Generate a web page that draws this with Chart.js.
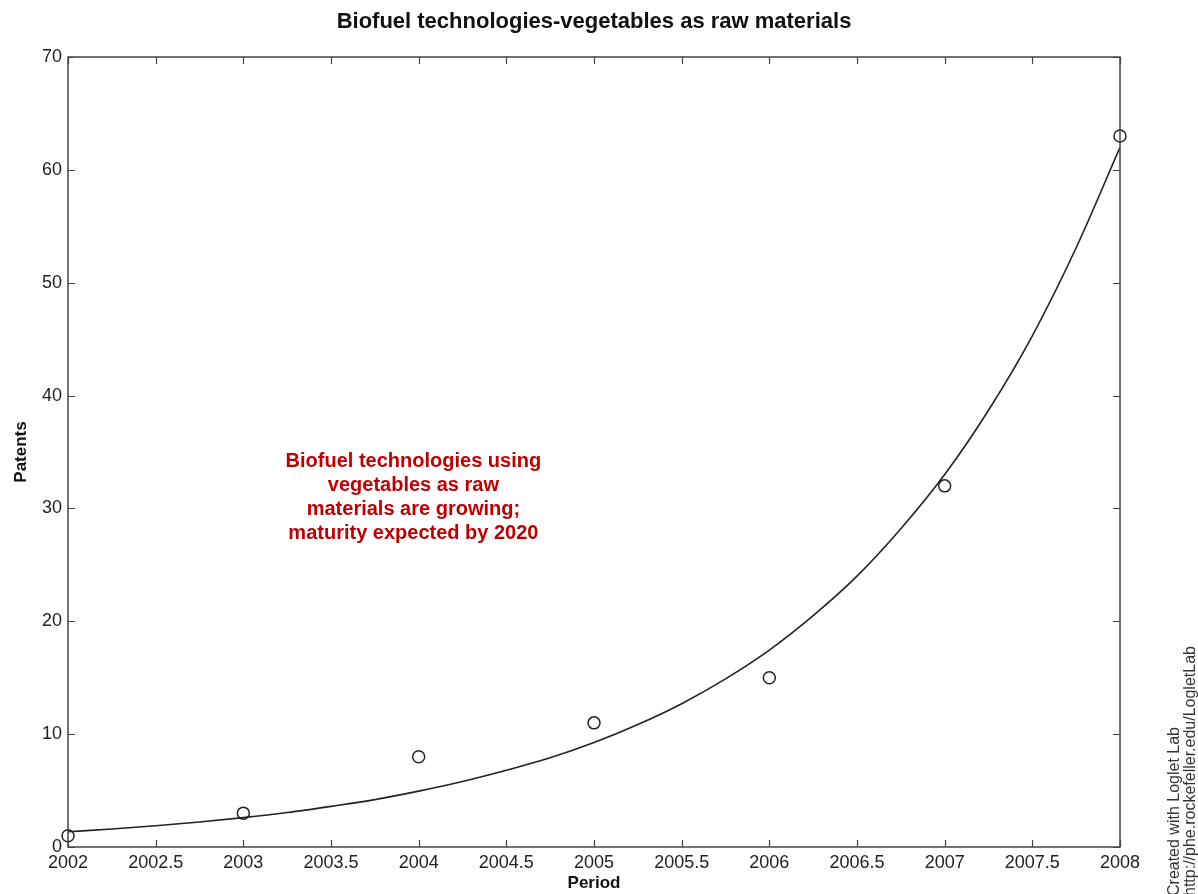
<!DOCTYPE html>
<html lang="en">
<head>
  <meta charset="UTF-8" />
  <title>Biofuel technologies-vegetables as raw materials</title>
  <script src="https://cdn.jsdelivr.net/npm/chart.js"></script>
  <style>
    html, body { margin: 0; padding: 0; background: #fff; }
    #wrap { width: 1198px; height: 894px; }
  </style>
</head>
<body>
  <div id="wrap"><canvas id="chart" width="1198" height="894"></canvas></div>
  <script>
    // observed patents per year (circles)
    const years = [2002, 2003, 2004, 2005, 2006, 2007, 2008];
    const patents = [1, 3, 8, 11, 15, 32, 63];

    // fitted curve, every quarter year
    const fitX = [2002, 2002.25, 2002.5, 2002.75, 2003, 2003.25, 2003.5, 2003.75, 2004, 2004.25, 2004.5, 2004.75,
                  2005, 2005.25, 2005.5, 2005.75, 2006, 2006.25, 2006.5, 2006.75, 2007, 2007.25, 2007.5, 2007.75, 2008];
    const fitY = [1.35, 1.6, 1.88, 2.22, 2.6, 3.05, 3.6, 4.2, 4.95, 5.8, 6.8, 7.9,
                  9.25, 10.85, 12.7, 14.9, 17.45, 20.5, 24.0, 28.2, 33.0, 38.7, 45.3, 53.1, 62.0];

    const xTicks = [2002, 2002.5, 2003, 2003.5, 2004, 2004.5, 2005, 2005.5, 2006, 2006.5, 2007, 2007.5, 2008];
    const yTicks = [0, 10, 20, 30, 40, 50, 60, 70];

    const title = "Biofuel technologies-vegetables as raw materials";
    const note = ["Biofuel technologies using", "vegetables as raw", "materials are growing;", "maturity expected by 2020"];
    const credit = ["Created with Loglet Lab", "http://phe.rockefeller.edu/LogletLab"];

    const axisColor = "#444";
    const fontFamily = "Arial, 'Liberation Sans', sans-serif";

    // box with inward ticks, title, note text and credit line
    const boxPlugin = {
      id: "box",
      afterDatasetsDraw(chart) {
        const { ctx, chartArea: a, scales } = chart;
        const x = scales.x, y = scales.y;
        ctx.save();
        ctx.strokeStyle = axisColor;
        ctx.lineWidth = 1.5;
        ctx.strokeRect(a.left, a.top, a.right - a.left, a.bottom - a.top);
        ctx.lineWidth = 1.2;
        ctx.beginPath();
        xTicks.forEach(v => {
          const px = Math.round(x.getPixelForValue(v)) + 0.5;
          ctx.moveTo(px, a.bottom); ctx.lineTo(px, a.bottom - 7);
          ctx.moveTo(px, a.top); ctx.lineTo(px, a.top + 7);
        });
        yTicks.forEach(v => {
          const py = Math.round(y.getPixelForValue(v)) + 0.5;
          ctx.moveTo(a.left, py); ctx.lineTo(a.left + 7, py);
          ctx.moveTo(a.right, py); ctx.lineTo(a.right - 7, py);
        });
        ctx.stroke();

        // title centred over the plot box
        ctx.fillStyle = "#111";
        ctx.font = "bold 22px " + fontFamily;
        ctx.textAlign = "center";
        ctx.textBaseline = "middle";
        ctx.fillText(title, (a.left + a.right) / 2, 22);

        // annotation
        ctx.fillStyle = "#c00000";
        ctx.font = "bold 20px " + fontFamily;
        const cx = x.getPixelForValue(2003.97);
        const top = y.getPixelForValue(34.2);
        note.forEach((t, i) => ctx.fillText(t, cx, top + i * 24));

        // credit, rotated
        ctx.fillStyle = "#333";
        ctx.font = "16px " + fontFamily;
        ctx.textAlign = "left";
        credit.forEach((t, i) => {
          ctx.save();
          ctx.translate(1175 + i * 16, 896);
          ctx.rotate(-Math.PI / 2);
          ctx.fillText(t, 0, 0);
          ctx.restore();
        });
        ctx.restore();
      }
    };

    const tickFont = { family: fontFamily, size: 18 };

    new Chart(document.getElementById("chart"), {
      type: "scatter",
      data: {
        datasets: [
          {
            type: "line",
            label: "fit",
            data: fitX.map((v, i) => ({ x: v, y: fitY[i] })),
            borderColor: "#222",
            borderWidth: 1.6,
            pointRadius: 0,
            cubicInterpolationMode: "monotone",
            fill: false
          },
          {
            label: "Patents",
            data: years.map((v, i) => ({ x: v, y: patents[i] })),
            pointStyle: "circle",
            pointRadius: 6,
            pointBorderWidth: 1.5,
            borderColor: "#222",
            backgroundColor: "rgba(255,255,255,0)",
            clip: false
          }
        ]
      },
      options: {
        responsive: false,
        animation: false,
        layout: { padding: { top: 57, right: 78, left: 0, bottom: 0 } },
        plugins: {
          legend: { display: false },
          tooltip: { enabled: false },
          title: { display: false }
        },
        scales: {
          x: {
            type: "linear",
            min: 2002,
            max: 2008,
            afterBuildTicks(s) { s.ticks = xTicks.map(v => ({ value: v })); },
            afterFit(s) { s.height = 47; },
            grid: { display: false, drawTicks: false },
            border: { display: false },
            ticks: {
              color: "#222",
              font: tickFont,
              padding: 5,
              maxRotation: 0,
              autoSkip: false,
              callback: v => String(v)
            },
            title: {
              display: true,
              text: "Period",
              color: "#111",
              font: { family: fontFamily, size: 17, weight: "bold" },
              padding: { top: -4, bottom: 0 }
            }
          },
          y: {
            min: 0,
            max: 70,
            afterBuildTicks(s) { s.ticks = yTicks.map(v => ({ value: v })); },
            afterFit(s) { s.width = 68; },
            grid: { display: false, drawTicks: false },
            border: { display: false },
            ticks: {
              color: "#222",
              font: tickFont,
              padding: 6
            },
            title: {
              display: true,
              text: "Patents",
              color: "#111",
              font: { family: fontFamily, size: 17, weight: "bold" },
              padding: { top: 11, bottom: 4 }
            }
          }
        }
      },
      plugins: [boxPlugin]
    });
  </script>
</body>
</html>
